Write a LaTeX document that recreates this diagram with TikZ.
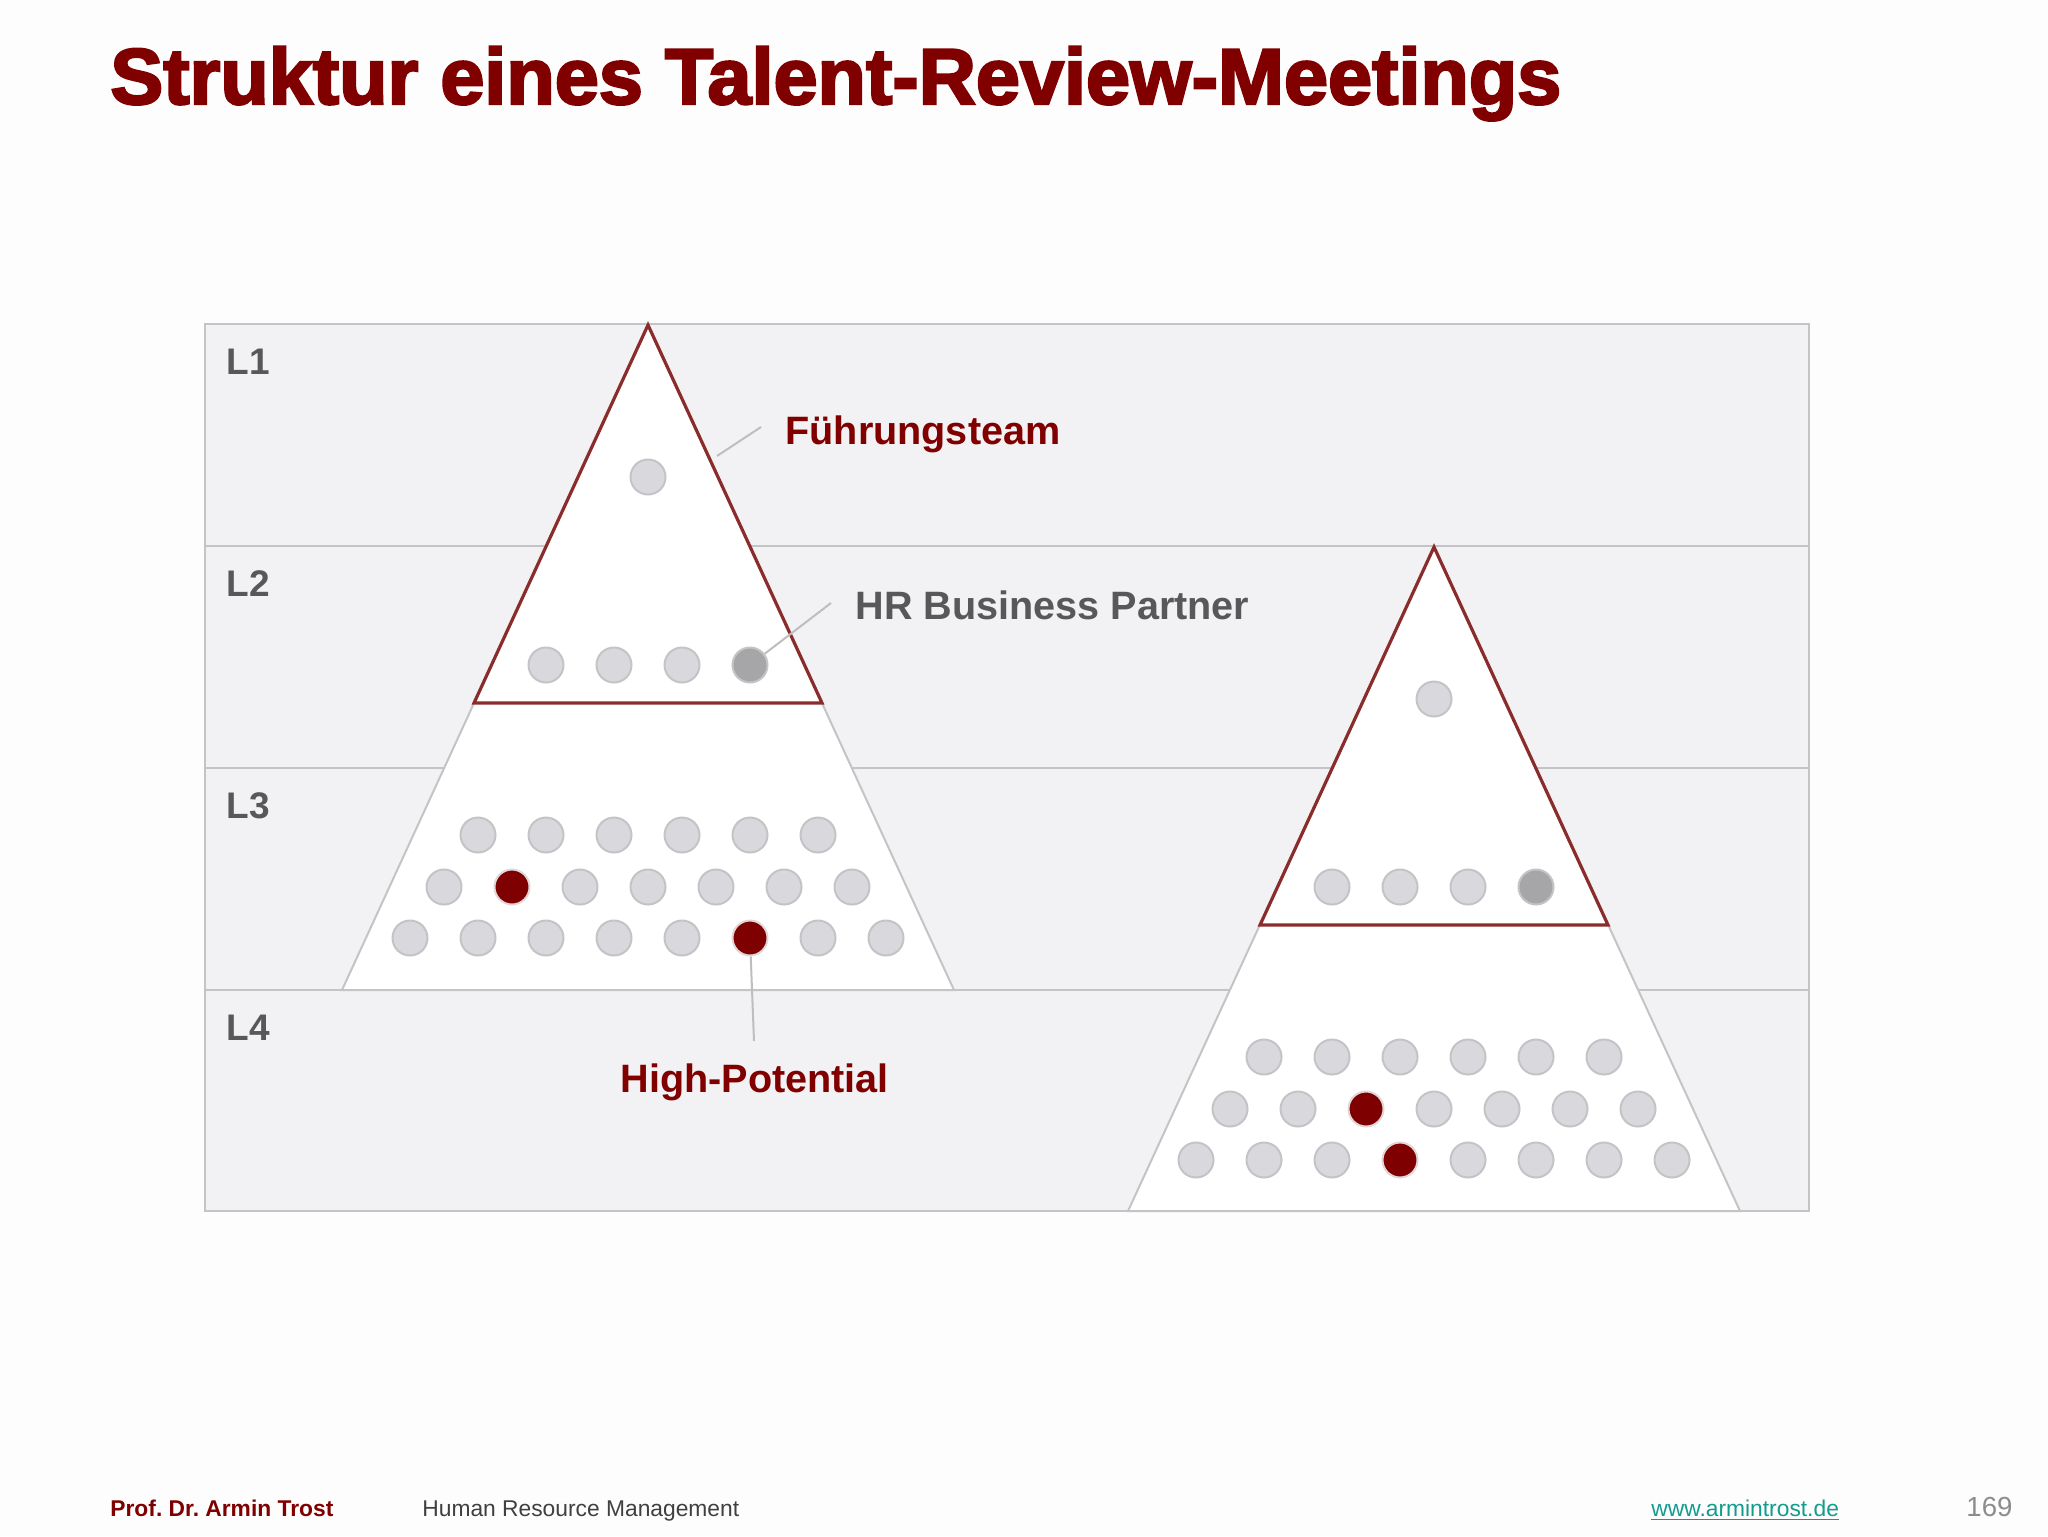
\documentclass[tikz,border=0pt]{standalone}
\usepackage{fontspec}
\setmainfont{Liberation Sans}
\newfontfamily\titlefont{Liberation Sans}[BoldFeatures={FakeBold=3}]
\frenchspacing
\definecolor{titlered}{HTML}{800000}
\definecolor{pyrred}{HTML}{8B2C2C}
\definecolor{labgray}{HTML}{58585A}
\definecolor{panelfill}{HTML}{F2F1F3}
\definecolor{panelline}{HTML}{C4C4C6}
\definecolor{bgcol}{HTML}{FDFDFE}
\definecolor{dotfill}{HTML}{D9D8DC}
\definecolor{dotline}{HTML}{C4C3C6}
\definecolor{hrfill}{HTML}{A6A5A8}
\definecolor{redfill}{HTML}{7F0000}
\definecolor{leader}{HTML}{BEBEC0}
\definecolor{teal}{HTML}{139C8E}
\definecolor{footgray}{HTML}{404040}
\definecolor{pagegray}{HTML}{8C8C8C}
\begin{document}
\begin{tikzpicture}[x=0.5pt,y=-0.5pt,
  dot/.style={circle,inner sep=0pt,minimum size=17.5pt,fill=dotfill,draw=dotline,line width=1pt},
  hrdot/.style={dot,fill=hrfill,draw=dotline},
  reddot/.style={dot,fill=redfill,draw=dotline!80!redfill!40},
  panel/.style={fill=panelfill,draw=panelline,line width=1.2pt},
  rowline/.style={draw=panelline,line width=1.2pt},
  pyrout/.style={fill=white,draw=panelline,line width=1pt},
  pyrtop/.style={fill=white,draw=pyrred,line width=1.6pt,line join=miter},
  leadline/.style={draw=leader,line width=1pt},
  lvl/.style={anchor=base west,inner sep=0pt,text=labgray,font=\bfseries\fontsize{18.5}{22}\selectfont},
  callout/.style={anchor=base west,inner sep=0pt,font=\bfseries\fontsize{19.8}{24}\selectfont},
  foot/.style={anchor=base west,inner sep=0pt,font=\fontsize{11.4}{14}\selectfont}]
\fill[bgcol] (0,0) rectangle (2048,1536);
\useasboundingbox (0,0) rectangle (2048,1536);

% title
\node[anchor=base west,inner sep=0pt,text=titlered,font=\titlefont\bfseries\fontsize{39.6}{44}\selectfont] (title) at (110,104) {Struktur eines Talent-Review-Meetings};

% panel with levels
\draw[panel] (205,324) rectangle (1809,1211);
\foreach \y in {546,768,990} \draw[rowline] (205,\y) -- (1809,\y);
\node[lvl] (L1) at (226,374) {L1};
\node[lvl] (L2) at (226,596) {L2};
\node[lvl] (L3) at (226,818) {L3};
\node[lvl] (L4) at (226,1040) {L4};

% left pyramid
\begin{scope}[shift={(648,325)}]
  \draw[pyrout] (0,0) -- (306,665) -- (-306,665) -- cycle;
  \draw[pyrtop] (0,0) -- (174,378) -- (-174,378) -- cycle;
  \node[dot] (A-top) at (0,152) {};
  \foreach \x/\s [count=\i] in {-102/dot,-34/dot,34/dot,102/hrdot}
    \node[\s] (A-b\i) at (\x,340) {};
  \foreach \x [count=\i] in {-170,-102,-34,34,102,170}
    \node[dot] (A-r1\i) at (\x,510) {};
  \foreach \x/\s [count=\i] in {-204/dot,-136/reddot,-68/dot,0/dot,68/dot,136/dot,204/dot}
    \node[\s] (A-r2\i) at (\x,562) {};
  \foreach \x/\s [count=\i] in {-238/dot,-170/dot,-102/dot,-34/dot,34/dot,102/reddot,170/dot,238/dot}
    \node[\s] (A-r3\i) at (\x,613) {};
\end{scope}

% right pyramid
\begin{scope}[shift={(1434,547)}]
  \draw[pyrout] (0,0) -- (306,664) -- (-306,664) -- cycle;
  \draw[pyrtop] (0,0) -- (174,378) -- (-174,378) -- cycle;
  \node[dot] (B-top) at (0,152) {};
  \foreach \x/\s [count=\i] in {-102/dot,-34/dot,34/dot,102/hrdot}
    \node[\s] (B-b\i) at (\x,340) {};
  \foreach \x [count=\i] in {-170,-102,-34,34,102,170}
    \node[dot] (B-r1\i) at (\x,510) {};
  \foreach \x/\s [count=\i] in {-204/dot,-136/dot,-68/reddot,0/dot,68/dot,136/dot,204/dot}
    \node[\s] (B-r2\i) at (\x,562) {};
  \foreach \x/\s [count=\i] in {-238/dot,-170/dot,-102/dot,-34/reddot,34/dot,102/dot,170/dot,238/dot}
    \node[\s] (B-r3\i) at (\x,613) {};
\end{scope}

% callouts
\node[callout,text=titlered] (fuehr) at (785,444) {Führungsteam};
\node[callout,text=labgray] (hrbp) at (855,619) {HR Business Partner};
\node[callout,text=titlered] (hipo) at (620,1092) {High-Potential};
\coordinate (f1) at (717,456);
\coordinate (f2) at (761,427);
\draw[leadline] (f1) -- (f2);
\coordinate (h2) at (831,603);
\draw[leadline] (A-b4) -- (h2);
\coordinate (p2) at (754,1041);
\draw[leadline] (A-r36) -- (p2);

% footer
\node[foot,text=titlered,font=\bfseries\fontsize{11.4}{14}\selectfont] (author) at (110,1516) {Prof. Dr. Armin Trost};
\node[foot,text=footgray] (course) at (422,1516) {Human Resource Management};
\node[foot,text=teal] (url) at (1651,1516) {\underline{www.armintrost.de}};
\node[foot,text=pagegray,font=\fontsize{13.8}{16}\selectfont] (page) at (1966,1516) {169};
\end{tikzpicture}
\end{document}
